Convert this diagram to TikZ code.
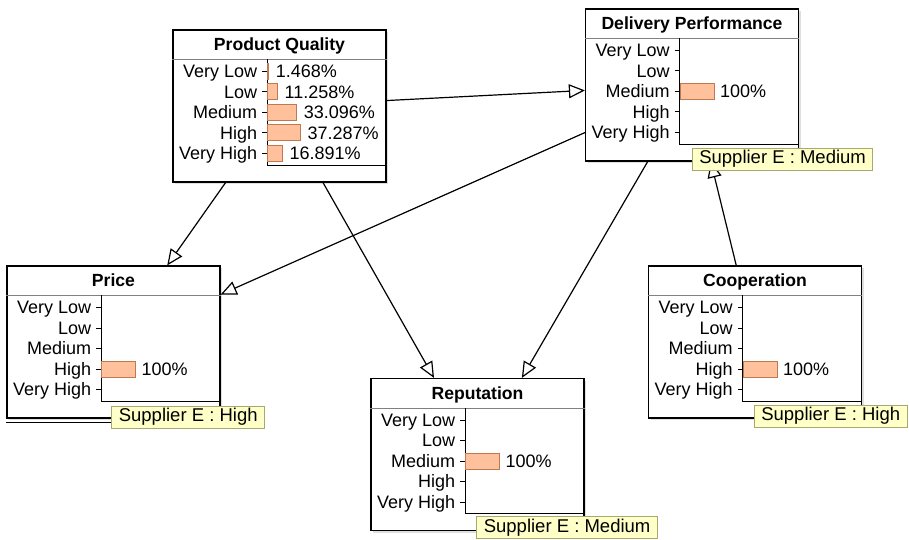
\documentclass[tikz,border=0pt]{standalone}
\usepackage{fontspec}
\setmainfont{Liberation Sans}
\usetikzlibrary{positioning,calc,arrows.meta,shadows}
\definecolor{barfill}{HTML}{FFC09C}
\definecolor{barline}{HTML}{C07850}
\definecolor{tipfill}{HTML}{FFFFC8}
\definecolor{tipline}{HTML}{A8A870}

\begin{document}
\begin{tikzpicture}[x=1pt,y=-1pt,
      bnbox/.style={draw,fill=white,line width=1.2pt,minimum width=213pt,minimum height=152pt,inner sep=0pt,
        drop shadow={shadow xshift=2pt,shadow yshift=-2pt,opacity=0.25}},
      bntitle/.style={font=\fontsize{17.6}{20}\selectfont\bfseries,anchor=base,inner sep=0pt},
      bnstate/.style={font=\fontsize{18}{20}\selectfont,anchor=base east,inner sep=0pt},
      bnvalue/.style={font=\fontsize{18}{20}\selectfont,anchor=base west,inner sep=0pt},
      bar/.style={draw=barline,fill=barfill,line width=0.8pt},
      tooltip/.style={draw=tipline,fill=tipfill,line width=0.8pt,font=\fontsize{18.5}{20}\selectfont,
        anchor=north west,inner xsep=7pt,inner ysep=0pt,minimum height=22pt},
      link/.style={line width=1.2pt,-{Triangle[open,length=16pt,width=14pt]}}
      ]
      \useasboundingbox (0,0) rectangle (909,540);
      \node[bnbox] (PQ) at (279.5,106) {};
      \node[bnbox] (DP) at (692,85) {};
      \node[bnbox] (Pr) at (113.5,342) {};
      \node[bnbox] (Rep) at (477.5,454.5) {};
      \node[bnbox] (Coop) at (755,342) {};
      \draw[line width=1.2pt] ([yshift=-4pt]Pr.south west) -- ([yshift=-4pt]Pr.south east);

      \foreach \n/\t in {PQ/Product Quality,DP/Delivery Performance,Pr/Price,Rep/Reputation,Coop/Cooperation}{
        \draw[gray,line width=0.8pt] ([yshift=-30pt]\n.north west) -- ([yshift=-30pt]\n.north east);
        \node[bntitle] (\n-t) at ([yshift=-21.5pt]\n.north) {\t};
        \coordinate (\n-ax) at ([xshift=95pt,yshift=-42pt]\n.north west);
        \draw[line width=1.1pt] ([xshift=95pt,yshift=-30pt]\n.north west) |- ([yshift=-136pt]\n.north east);
        \foreach \s [count=\i from 0] in {Very Low,Low,Medium,High,Very High}{
          \draw[line width=0.8pt] ([xshift=-5pt,yshift=-20.5pt*\i]\n-ax) -- ([yshift=-20.5pt*\i]\n-ax);
          \node[bnstate] (\n-s\i) at ([xshift=-10pt,yshift=-6.5pt-20.5pt*\i]\n-ax) {\s};
        }
      }

      \foreach \w/\p [count=\i from 0] in {1.3/1.468,10/11.258,29.3/33.096,33/37.287,14.9/16.891}{
        \draw[bar] ([yshift=8pt-20.5pt*\i]PQ-ax) rectangle ++(\w pt,-16pt);
        \node[bnvalue] (PQ-v\i) at ([xshift=\w pt+7pt,yshift=-6.5pt-20.5pt*\i]PQ-ax) {\p\%};
      }
      \foreach \n/\i in {DP/2,Pr/3,Rep/2,Coop/3}{
        \draw[bar] ([yshift=8pt-20.5pt*\i]\n-ax) rectangle ++(34pt,-16pt);
        \node[bnvalue] (\n-v\i) at ([xshift=40pt,yshift=-6.5pt-20.5pt*\i]\n-ax) {100\%};
      }

      \draw[link] (PQ) -- (DP);
      \draw[link] (PQ) -- (Pr);
      \draw[link] (PQ) -- (Rep);
      \draw[link] (DP) -- (Pr);
      \draw[link] (DP) -- (Rep);
      \draw[link] (Coop) -- (DP);

      \node[tooltip] (DP-e) at ([xshift=107pt,yshift=14pt]DP.south west) {Supplier E : Medium};
      \node[tooltip] (Pr-e) at ([xshift=105pt,yshift=13pt]Pr.south west) {Supplier E : High};
      \node[tooltip] (Rep-e) at ([xshift=106pt,yshift=15pt]Rep.south west) {Supplier E : Medium};
      \node[tooltip] (Coop-e) at ([xshift=106pt,yshift=14pt]Coop.south west) {Supplier E : High};
    \end{tikzpicture}
\end{document}
